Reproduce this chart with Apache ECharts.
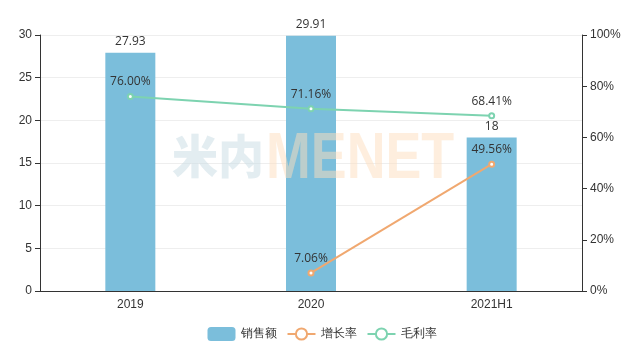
<!DOCTYPE html>
<html>
<head>
<meta charset="utf-8">
<script src="https://cdn.jsdelivr.net/npm/echarts@6/dist/echarts.min.js"></script>
<style>
  html, body { margin: 0; padding: 0; background: #fff; }
  #chart { width: 644px; height: 354px; }
</style>
</head>
<body>
<div id="chart"></div>
<script>
const categories = ['2019', '2020', '2021H1']
const sales = [27.93, 29.91, 18]
const growth = [null, 7.06, 49.56]
const margin = [76.00, 71.16, 68.41]

const chart = echarts.init(document.getElementById('chart'))

const labelStyle = { color: '#333', fontSize: 12, fontFamily: 'Open Sans, Noto Sans, sans-serif' }

chart.setOption({
  animation: false,
  grid: { left: 40, right: 62, top: 35, bottom: 63 },
  legend: {
    bottom: 8,
    left: 'center',
    itemWidth: 28,
    itemHeight: 14,
    itemGap: 10,
    textStyle: { color: '#333', fontSize: 12 },
    data: ['销售额', '增长率', '毛利率'],
  },
  // 背景水印
  graphic: [
    {
      type: 'text', left: 172, top: 133, z: 100, silent: true,
      style: { text: '米内', font: '900 46px "Noto Sans CJK SC"', fill: 'rgba(200,220,228,0.5)' },
    },
    {
      type: 'text', left: 266, top: 128, z: 100, silent: true,
      style: { text: 'MENET', font: 'bold 64px "Liberation Sans"', fill: 'rgba(253,222,190,0.5)' },
      scaleX: 0.84,
    },
  ],
  xAxis: {
    type: 'category',
    data: categories,
    axisLine: { lineStyle: { color: '#333' } },
    axisTick: { lineStyle: { color: '#333' } },
    axisLabel: { color: '#333', fontSize: 12 },
  },
  yAxis: [
    {
      type: 'value', min: 0, max: 30, interval: 5,
      axisLine: { show: true, lineStyle: { color: '#333' } },
      axisTick: { show: true },
      axisLabel: { color: '#333', fontSize: 12 },
      splitLine: { lineStyle: { color: '#eee' } },
    },
    {
      type: 'value', min: 0, max: 100, interval: 20,
      axisLine: { show: true, lineStyle: { color: '#333' } },
      axisTick: { show: true },
      axisLabel: { color: '#333', fontSize: 12, formatter: '{value}%' },
      splitLine: { show: false },
    },
  ],
  series: [
    {
      name: '销售额', type: 'bar', data: sales, barWidth: 50,
      itemStyle: { color: '#7bbedb' },
      label: { show: true, position: 'top', ...labelStyle },
    },
    {
      name: '增长率', type: 'line', yAxisIndex: 1, data: growth,
      symbol: 'emptyCircle', symbolSize: 5,
      itemStyle: { color: '#f0a870' },
      lineStyle: { width: 2 },
      label: { show: true, position: 'top', ...labelStyle, formatter: p => p.value.toFixed(2) + '%' },
    },
    {
      name: '毛利率', type: 'line', yAxisIndex: 1, data: margin,
      symbol: 'emptyCircle', symbolSize: 5,
      itemStyle: { color: '#7dd3b0' },
      lineStyle: { width: 2 },
      label: { show: true, position: 'top', ...labelStyle, formatter: p => p.value.toFixed(2) + '%' },
    },
  ],
})
</script>
</body>
</html>
